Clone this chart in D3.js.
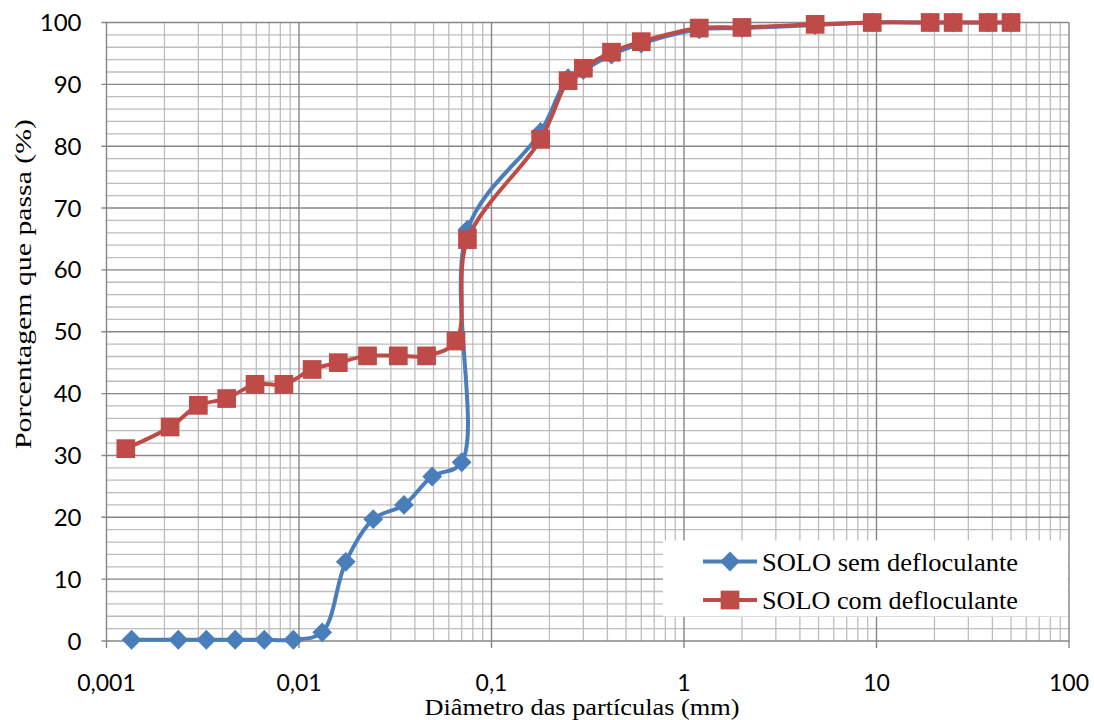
<!DOCTYPE html>
<html lang="pt">
<head>
    <meta charset="UTF-8">
    <title>Curva granulométrica</title>
    <style>
        body { margin: 0; background: #fff; }
        svg { display: block; }
    </style>
    <script src="https://d3js.org/d3.v7.min.js"></script>
</head>
<body>
    <div id="chart"></div>
    <script>
        // diametros (mm) e porcentagem que passa
        const diamSem = [0.00135, 0.00236, 0.0033, 0.00466, 0.0066, 0.00935, 0.0132, 0.0175, 0.0243, 0.0351, 0.0492, 0.070, 0.075, 0.18, 0.25, 0.3, 0.42, 0.6, 1.2, 2.0, 4.8, 9.5, 19, 25, 38, 50]
        const passSem = [0.2, 0.2, 0.2, 0.2, 0.2, 0.2, 1.4, 12.8, 19.7, 22.0, 26.6, 28.9, 66.5, 82.3, 91.0, 92.3, 94.8, 96.6, 98.9, 99.1, 99.6, 100, 100, 100, 100, 100]

        const diamCom = [0.00126, 0.00214, 0.0030, 0.00421, 0.00591, 0.00835, 0.0117, 0.0160, 0.0227, 0.0328, 0.0460, 0.0654, 0.075, 0.18, 0.25, 0.3, 0.42, 0.6, 1.2, 2.0, 4.8, 9.5, 19, 25, 38, 50]
        const passCom = [31.1, 34.6, 38.1, 39.2, 41.5, 41.5, 43.9, 45.0, 46.1, 46.1, 46.1, 48.5, 64.9, 81.1, 90.6, 92.6, 95.2, 96.9, 99.1, 99.2, 99.7, 100, 100, 100, 100, 100]

        const xTicks = [0.001, 0.01, 0.1, 1, 10, 100]
        const xTickLabels = ["0,001", "0,01", "0,1", "1", "10", "100"]
        const yTicks = [0, 10, 20, 30, 40, 50, 60, 70, 80, 90, 100]

        const seriesNames = ["SOLO sem defloculante", "SOLO com defloculante"]

        const width = 1094, height = 720
        const pLeft = 106.5, pRight = 1069, pTop = 22.5, pBottom = 641

        const svg = d3.select("#chart").append("svg")
            .attr("width", width).attr("height", height)

        const x = d3.scaleLog().domain([0.001, 100]).range([pLeft, pRight])
        const y = d3.scaleLinear().domain([0, 100]).range([pBottom, pTop])

        // grade secundaria
        const minorX = []
        xTicks.slice(0, -1).forEach(d => { for (let k = 2; k <= 9; k++) minorX.push(d * k) })
        const minorY = d3.range(0, 101, 2).filter(v => v % 10 !== 0)

        const grid = svg.append("g")
        grid.selectAll(".mx").data(minorX).enter().append("line")
            .attr("x1", d => x(d)).attr("x2", d => x(d))
            .attr("y1", pTop).attr("y2", pBottom)
            .attr("stroke", "#bdbdbd").attr("stroke-width", 1.3)
        grid.selectAll(".my").data(minorY).enter().append("line")
            .attr("x1", pLeft).attr("x2", pRight)
            .attr("y1", d => y(d)).attr("y2", d => y(d))
            .attr("stroke", "#bdbdbd").attr("stroke-width", 1.3)
        grid.selectAll(".Mx").data(xTicks).enter().append("line")
            .attr("x1", d => x(d)).attr("x2", d => x(d))
            .attr("y1", pTop).attr("y2", pBottom + 7)
            .attr("stroke", "#868686").attr("stroke-width", 1.4)
        grid.selectAll(".My").data(yTicks).enter().append("line")
            .attr("x1", pLeft - 5).attr("x2", pRight)
            .attr("y1", d => y(d)).attr("y2", d => y(d))
            .attr("stroke", "#868686").attr("stroke-width", 1.4)

        // rotulos dos eixos
        svg.append("g").selectAll("text").data(yTicks).enter().append("text")
            .attr("x", pLeft - 25).attr("y", d => y(d) + 8.5)
            .attr("text-anchor", "end")
            .attr("font-family", "Lato, sans-serif").attr("font-size", 24)
            .text(d => d)

        svg.append("g").selectAll("text").data(xTicks).enter().append("text")
            .attr("x", d => x(d)).attr("y", 691)
            .attr("text-anchor", "middle")
            .attr("font-family", "Lato, sans-serif").attr("font-size", 23)
            .text((d, i) => xTickLabels[i])

        svg.append("text")
            .attr("x", 582).attr("y", 715)
            .attr("text-anchor", "middle")
            .attr("font-family", "Liberation Serif, serif").attr("font-size", 23)
            .attr("textLength", 315).attr("lengthAdjust", "spacingAndGlyphs")
            .text("Diâmetro das partículas (mm)")

        svg.append("text")
            .attr("transform", "translate(31, 284) rotate(-90)")
            .attr("text-anchor", "middle")
            .attr("font-family", "Liberation Serif, serif").attr("font-size", 24)
            .attr("textLength", 330).attr("lengthAdjust", "spacingAndGlyphs")
            .text("Porcentagem que passa (%)")

        // series
        const colors = ["#4a7ebb", "#be4b48"]
        const series = [
            diamSem.map((d, i) => ({ d, p: passSem[i] })),
            diamCom.map((d, i) => ({ d, p: passCom[i] }))
        ]

        const line = d3.line()
            .x(v => x(v.d)).y(v => y(v.p))
            .curve(d3.curveCatmullRom.alpha(0.5))

        const diamond = d3.symbol().type(d3.symbolDiamond2).size(250)
        const square = d3.symbol().type(d3.symbolSquare).size(350)
        const shapes = [diamond, square]

        series.forEach((s, i) => {
            const g = svg.append("g")
            g.append("path").datum(s)
                .attr("d", line)
                .attr("fill", "none")
                .attr("stroke", colors[i]).attr("stroke-width", 4)
                .attr("stroke-linejoin", "round")
            g.selectAll("path.m").data(s).enter().append("path")
                .attr("class", "m")
                .attr("transform", v => `translate(${x(v.d)}, ${y(v.p)})`)
                .attr("d", shapes[i])
                .attr("fill", colors[i])
        })

        // legenda
        const leg = svg.append("g")
        leg.append("rect")
            .attr("x", 663).attr("y", 540.5)
            .attr("width", 405).attr("height", 76)
            .attr("fill", "#fff")
        seriesNames.forEach((name, i) => {
            const ly = 561.5 + i * 38.5
            leg.append("line")
                .attr("x1", 703).attr("x2", 757)
                .attr("y1", ly).attr("y2", ly)
                .attr("stroke", colors[i]).attr("stroke-width", 4)
            leg.append("path")
                .attr("transform", `translate(730, ${ly})`)
                .attr("d", shapes[i])
                .attr("fill", colors[i])
            leg.append("text")
                .attr("x", 762).attr("y", ly + 9)
                .attr("font-family", "Liberation Serif, serif").attr("font-size", 26)
                .attr("textLength", name.length > 21 ? 265 : 256).attr("lengthAdjust", "spacingAndGlyphs")
                .text(name)
        })
    </script>
</body>
</html>
